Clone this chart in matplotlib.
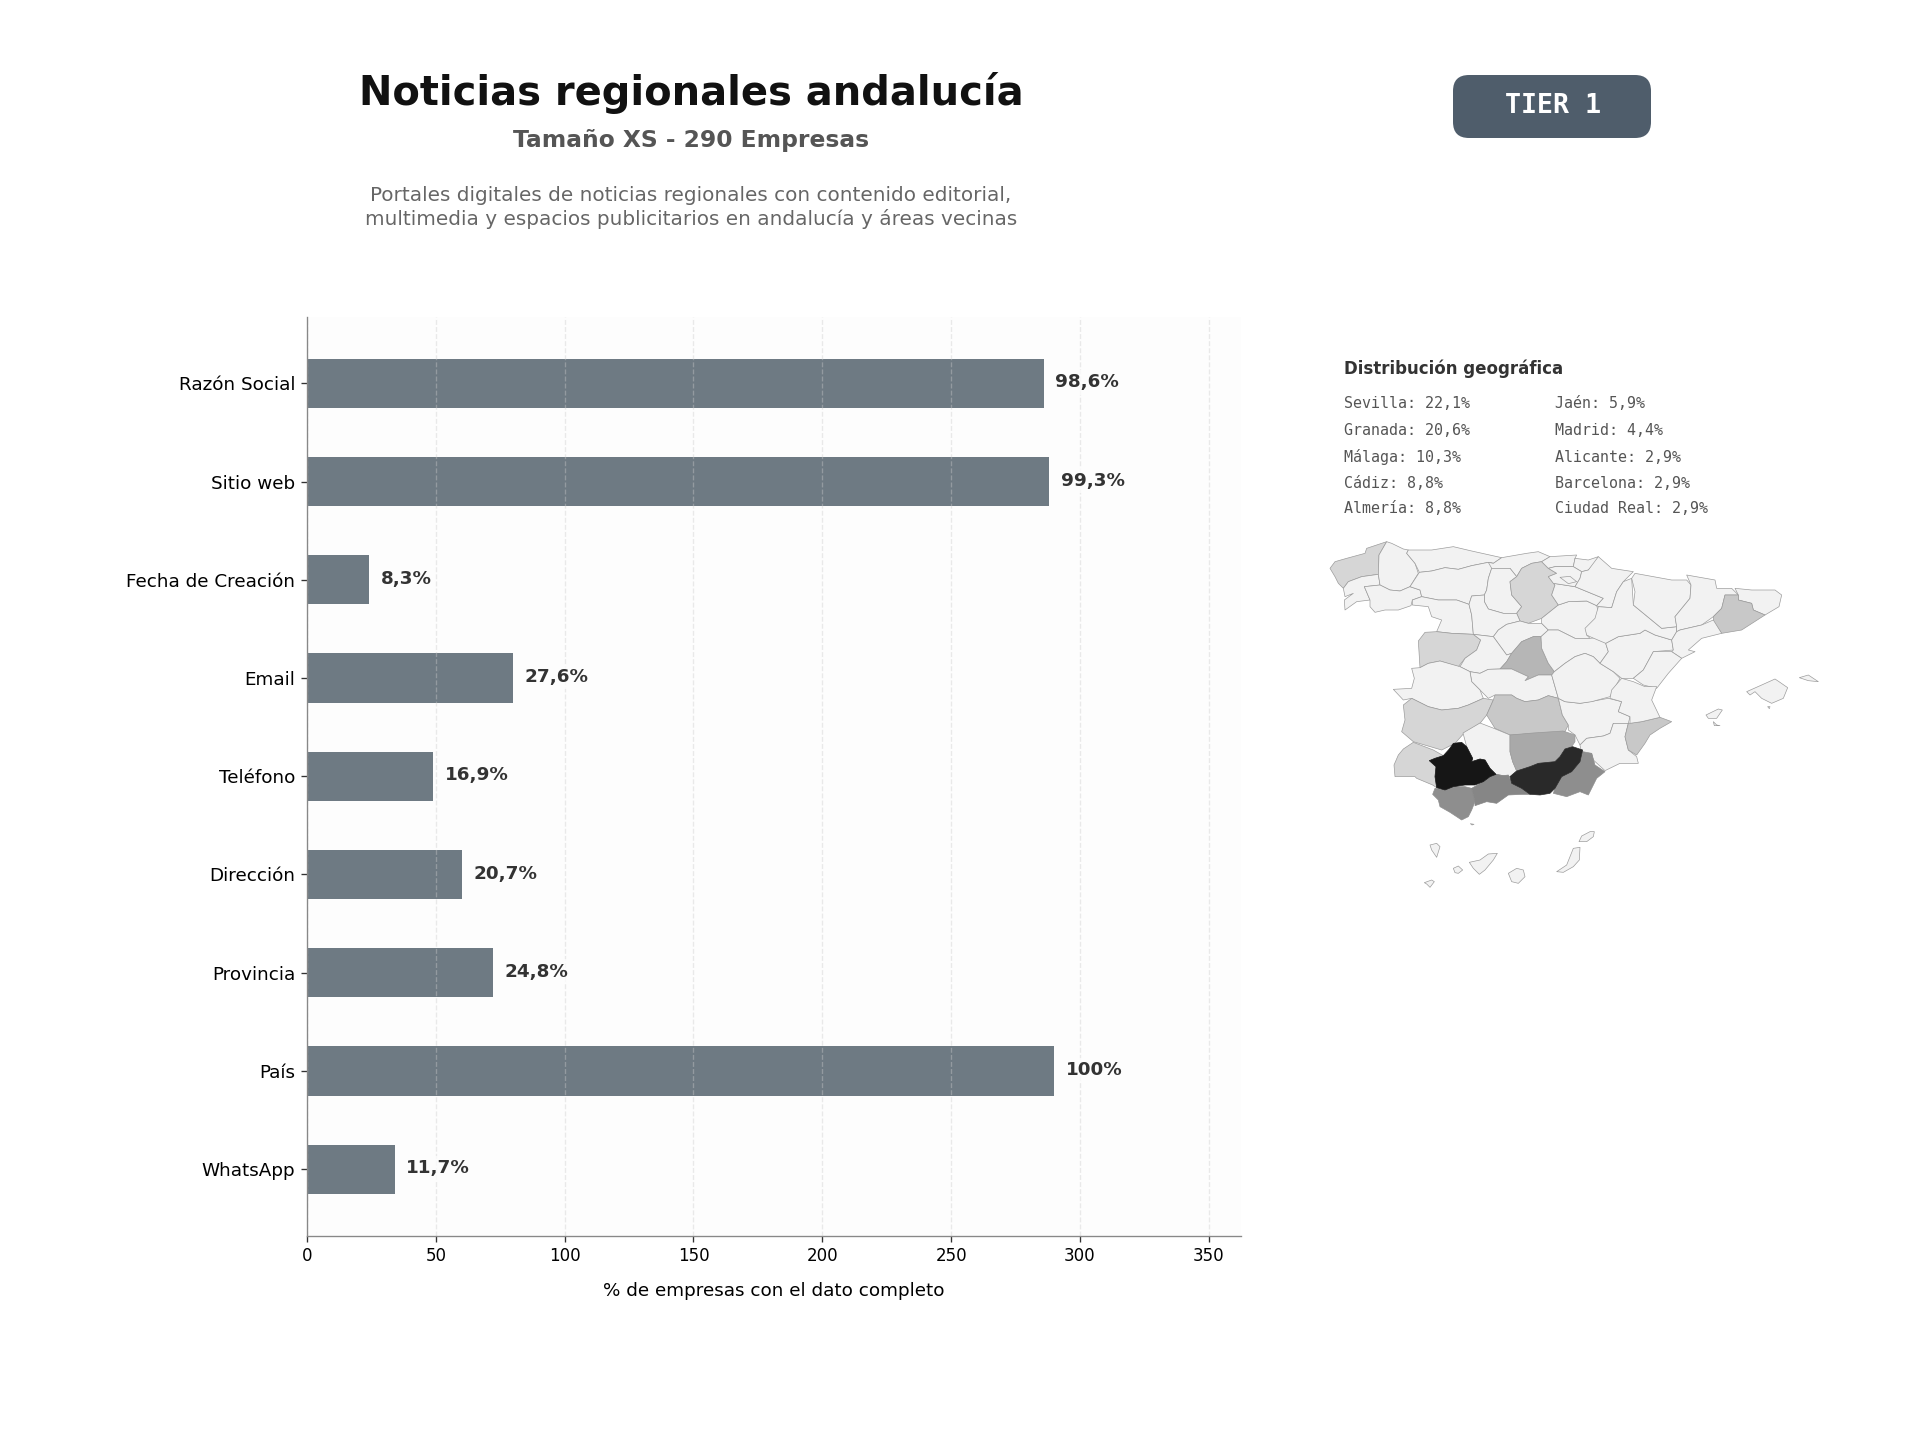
import numpy as np
import matplotlib
matplotlib.use('Agg')
import matplotlib.pyplot as plt
from matplotlib.colors import LinearSegmentedColormap
from matplotlib.patches import FancyBboxPatch, Polygon

# --- Data ---

FIELDS = ['Razón Social', 'Sitio web', 'Fecha de Creación', 'Email', 'Teléfono',
          'Dirección', 'Provincia', 'País', 'WhatsApp']
COUNTS = [286, 288, 24, 80, 49, 60, 72, 290, 34]
PCT_LABELS = ['98,6%', '99,3%', '8,3%', '27,6%', '16,9%', '20,7%', '24,8%', '100%', '11,7%']
TOTAL = 290

GEO_LEFT = ['Sevilla: 22,1%', 'Granada: 20,6%', 'Málaga: 10,3%', 'Cádiz: 8,8%', 'Almería: 8,8%']
GEO_RIGHT = ['Jaén: 5,9%', 'Madrid: 4,4%', 'Alicante: 2,9%', 'Barcelona: 2,9%', 'Ciudad Real: 2,9%']

# share per province (provinces not listed have no companies)
SHARE = {'Sevilla': 22.1, 'Granada': 20.6, 'Malaga': 10.3, 'Cadiz': 8.8, 'Almeria': 8.8,
         'Jaen': 5.9, 'Madrid': 4.4, 'Alicante': 2.9, 'Barcelona': 2.9, 'Ciudad Real': 2.9,
         'A Coruna': 1.5, 'Burgos': 1.5, 'Salamanca': 1.5, 'Badajoz': 1.5, 'Huelva': 1.5}

# Province outlines traced by hand, one dict per map sheet
SHEET_NW = {
    'A Coruna': [(15,100),(30,80),(65,70),(120,55),(125,40),(185,20),(162,60),(160,118),(110,125),(70,140),(55,160),(40,145),(30,125)],
    'Pontevedra': [(55,160),(70,140),(110,125),(160,118),(165,150),(118,155),(135,195),(95,200),(60,225),(58,195),(85,175),(60,185)],
    'Lugo': [(185,20),(200,25),(235,42),(250,45),(245,55),(270,85),(280,115),(255,155),(225,168),(195,165),(165,150),(160,118),(162,60)],
    'Ourense': [(118,155),(165,150),(195,165),(225,168),(255,155),(285,165),(290,185),(262,195),(258,212),(220,225),(180,225),(150,232),(135,215),(135,195)],
    'Asturias': [(250,45),(320,45),(385,35),(440,48),(530,68),(505,85),(490,82),(440,92),(400,103),(360,98),(320,108),(283,112),(270,85),(245,55)],
    'Leon': [(283,112),(320,108),(360,98),(400,103),(440,92),(490,82),(505,85),(490,130),(485,165),(478,180),(440,183),(432,208),(395,195),(340,195),(290,185),(285,165),(255,155)],
    'Cantabria': [(530,68),(605,55),(640,50),(675,65),(650,80),(620,85),(590,100),(575,125),(555,100),(500,100),(490,82),(505,85)],
    'Palencia': [(500,100),(555,100),(575,125),(555,140),(560,180),(590,215),(575,235),(535,235),(490,222),(478,200),(478,180),(485,165),(490,130)],
    'Burgos': [(590,100),(620,85),(650,80),(670,100),(695,115),(670,125),(690,150),(680,180),(700,210),(650,250),(610,265),(585,258),(575,235),(590,215),(560,180),(555,140),(575,125)],
    'Zamora': [(262,195),(290,185),(340,195),(395,195),(432,208),(440,240),(445,298),(380,295),(335,290),(350,255),(320,245),(310,215),(262,210)],
    'Valladolid': [(440,183),(478,180),(478,200),(490,222),(535,235),(575,235),(585,258),(545,268),(520,285),(505,305),(445,298),(440,240),(432,208)],
    'Salamanca': [(280,318),(300,292),(335,290),(380,295),(445,298),(467,315),(455,345),(420,370),(400,395),(345,378),(310,385),(285,398)],
    'Segovia': [(505,305),(520,285),(545,268),(585,258),(610,265),(650,265),(670,285),(648,305),(625,305),(590,320),(560,355),(545,360)],
    'Soria': [(650,250),(700,210),(730,200),(785,198),(815,212),(825,245),(790,280),(785,300),(795,310),(750,310),(700,285),(670,285),(650,265)],
    'Avila': [(405,395),(420,370),(455,345),(467,315),(445,298),(505,305),(545,360),(560,355),(545,380),(525,402),(490,403),(465,415),(435,410)],
    'Madrid': [(525,402),(545,380),(560,355),(590,320),(625,305),(648,305),(650,340),(670,385),(688,410),(680,420),(640,420),(600,437),(610,425),(560,402)],
    'Guadalajara': [(648,305),(670,285),(700,285),(750,310),(795,310),(840,305),(842,325),(850,350),(825,385),(805,365),(780,355),(750,365),(720,385),(688,410),(670,385),(650,340)],
    'Toledo': [(435,410),(465,415),(490,403),(525,402),(560,402),(610,425),(600,437),(640,420),(680,420),(700,490),(670,482),(640,495),(600,500),(575,490),(560,480),(510,480),(490,490),(465,465),(440,440)],
    'Caceres': [(260,400),(285,398),(310,385),(345,378),(405,395),(435,410),(440,440),(465,465),(475,490),(430,510),(400,520),(350,525),(310,515),(260,490),(235,495),(205,463),(260,460),(268,430)],
    'Badajoz': [(235,510),(260,490),(310,515),(350,525),(400,520),(430,510),(475,490),(505,495),(485,540),(465,565),(415,597),(390,625),(350,645),(265,620),(230,590),(240,555)],
    'Ciudad Real': [(505,495),(510,480),(560,480),(575,490),(600,500),(640,495),(670,482),(700,490),(712,540),(730,570),(720,590),(640,595),(555,600),(510,580),(485,540)],
    'Albacete': [(700,490),(720,500),(765,505),(795,500),(850,490),(890,500),(880,530),(915,545),(910,565),(865,565),(855,595),(835,603),(785,610),(765,630),(750,600),(730,585),(730,570),(712,540)],
    'Cuenca': [(688,410),(720,385),(750,365),(780,355),(805,365),(825,385),(865,410),(885,430),(855,485),(800,500),(765,505),(720,500),(700,490),(680,420)],
    'La Rioja': [(685,145),(750,155),(835,190),(815,212),(785,198),(730,200),(700,210),(680,180),(690,150)],
    'Bizkaia': [(650,80),(675,65),(755,60),(750,70),(745,95),(690,95),(670,100)],
    'Gipuzkoa': [(750,70),(790,75),(820,65),(810,85),(790,105),(770,110),(745,95)],
    'Alava': [(670,125),(695,115),(670,100),(690,95),(745,95),(770,110),(765,130),(750,155),(685,145)],
    'Trevino': [(705,127),(735,124),(755,140),(730,146)],
    'Navarra': [(765,130),(770,110),(790,105),(820,65),(860,100),(925,110),(895,140),(875,170),(860,218),(820,215),(815,212),(835,190),(750,155)],
}

SHEET_NE = {
    'Teruel': [(75,385),(100,350),(92,325),(130,305),(195,295),(210,285),(240,300),(290,315),(295,345),(235,350),(205,405),(175,430),(140,430),(115,410)],
    'Zaragoza': [(35,300),(30,280),(60,250),(70,215),(110,218),(125,170),(145,140),(170,130),(175,210),(260,280),(305,275),(305,290),(290,315),(240,300),(210,285),(195,295),(130,305),(92,325),(45,305)],
    'Huesca': [(170,130),(180,115),(235,125),(290,135),(335,135),(348,150),(345,190),(300,245),(305,275),(260,280),(175,210),(180,170)],
    'Lleida': [(335,120),(420,135),(425,160),(470,160),(490,180),(450,180),(440,220),(415,245),(380,270),(315,285),(305,290),(305,275),(300,245),(345,190),(348,150)],
    'Girona': [(490,180),(480,160),(530,165),(600,165),(620,180),(612,215),(570,240),(535,225),(530,205),(490,195)],
    'Barcelona': [(450,180),(490,180),(490,195),(530,205),(535,225),(570,240),(500,285),(440,295),(415,260),(415,245),(440,220)],
    'Tarragona': [(315,285),(380,270),(415,255),(440,295),(380,310),(340,345),(360,350),(330,365),(320,370),(290,350),(295,345),(290,315),(305,290)],
    'Castellon': [(175,430),(205,405),(235,350),(290,350),(320,370),(280,415),(245,460),(205,450)],
    'Mallorca': [(515,470),(560,450),(600,432),(612,440),(638,458),(625,490),(590,505),(560,490),(540,470),(525,480)],
    'Menorca': [(673,428),(700,420),(730,440),(700,437)],
    'Ibiza': [(393,540),(430,522),(442,525),(425,550),(400,550)],
    'Formentera': [(415,560),(425,570),(435,572),(418,572)],
    'Cabrera': [(578,515),(585,515),(583,521)],
}

SHEET_SW = {
    'La Palma': [(150,435),(170,430),(180,440),(170,472),(155,450)],
    'Tenerife': [(268,487),(300,480),(325,462),(352,460),(340,480),(315,510),(298,523),(280,505)],
    'La Gomera': [(220,505),(235,498),(248,510),(235,520),(225,518)],
    'El Hierro': [(133,548),(155,540),(163,545),(150,562),(140,552)],
    'Gran Canaria': [(385,520),(410,505),(430,510),(435,530),(415,550),(395,545)],
    'Lanzarote': [(597,425),(605,408),(630,395),(643,395),(640,410),(620,425)],
    'Fuerteventura': [(530,515),(560,495),(580,445),(600,442),(598,480),(580,500),(550,517)],
    'Ceuta': [(271,371),(282,373),(276,375)],
}

SHEET_SE = {
    'Murcia': [(0,255),(20,235),(70,228),(90,220),(100,190),(145,190),(135,230),(145,270),(170,290),(175,310),(120,310),(75,332),(40,300),(35,280),(5,280)],
    'Alicante': [(135,230),(145,190),(185,185),(240,172),(275,185),(240,205),(210,225),(195,250),(170,285),(145,270)],
    'Valencia': [(125,55),(160,65),(195,80),(230,80),(215,120),(240,172),(185,185),(150,190),(150,170),(115,155),(125,125),(90,115),(95,90)],
}

SHEET_SOUTH = {
    'Cordoba': [(219,-6),(270,-36),(309,-21),(360,0),(360,50),(368,80),(380,108),(360,125),(340,122),(318,118),(300,100),(285,75),(270,72),(245,80),(248,70),(230,35)],
    'Jaen': [(360,0),(429,-6),(519,-12),(555,0),(555,20),(545,35),(525,42),(510,65),(495,80),(445,85),(420,95),(380,108),(368,80),(360,50)],
    'Huelva': [(12,90),(25,60),(40,42),(70,22),(130,45),(160,62),(135,70),(118,77),(138,95),(135,125),(140,158),(128,150),(80,130),(75,125),(15,125)],
    'Cadiz': [(128,178),(135,160),(165,165),(190,155),(225,155),(245,160),(255,200),(245,225),(235,245),(215,255),(180,232),(150,215),(145,195)],
    'Malaga': [(245,160),(280,140),(300,125),(318,118),(340,122),(355,120),(365,145),(395,160),(420,178),(395,178),(355,180),(320,205),(290,200),(255,212),(255,200)],
    'Almeria': [(495,160),(515,125),(545,110),(570,80),(578,50),(605,55),(615,90),(645,110),(620,130),(595,180),(570,170),(530,185),(490,175)],
    'Granada': [(360,125),(380,108),(420,95),(445,85),(495,80),(510,65),(525,42),(548,35),(578,45),(570,80),(545,110),(515,125),(495,160),(480,175),(450,180),(420,178),(395,160),(365,145)],
    'Sevilla': [(118,77),(135,70),(160,62),(178,42),(190,25),(215,22),(230,35),(248,70),(245,80),(270,72),(285,75),(300,100),(318,118),(300,125),(280,140),(255,150),(225,150),(190,155),(165,165),(140,158),(135,125),(138,95)],
}

# origin of each sheet on the picture, sheet units are a third of a pixel
SHEET_ORIGIN = {'nw': (1325, 535), 'ne': (1575, 535), 'sw': (1380, 700), 'se': (1580, 660), 'south': (1390, 735)}
SHEETS = {'nw': SHEET_NW, 'ne': SHEET_NE, 'sw': SHEET_SW, 'se': SHEET_SE, 'south': SHEET_SOUTH}

# grey scale of the map, from share to shade
GREY_SHARE = [0, 1.5, 2.9, 4.4, 5.9, 8.8, 10.3, 20.6, 22.1]
GREY_SHADE = ['#f2f2f2', '#d6d6d6', '#c8c8c8', '#b6b6b6', '#a9a9a9', '#8e8e8e', '#888888', '#2a2a2a', '#161616']

# --- Figure ---

W, H = 1920, 1440
fig = plt.figure(figsize=(16, 12), dpi=120, facecolor='white')


def ftext(x, y, s, **kw):
    """Text placed in picture pixels."""
    return fig.text(x / W, 1 - y / H, s, **kw)


# --- Header ---
ftext(691, 93, 'Noticias regionales andalucía', fontsize=24, fontweight='bold',
      color='#111111', ha='center', va='center')
ftext(691, 141, 'Tamaño XS - 290 Empresas', fontsize=14, fontweight='bold',
      color='#555555', ha='center', va='center')
ftext(691, 207.5, 'Portales digitales de noticias regionales con contenido editorial,\n'
      'multimedia y espacios publicitarios en andalucía y áreas vecinas',
      fontsize=12, color='#666666', ha='center', va='center', linespacing=1.25)

overlay = fig.add_axes([0, 0, 1, 1], facecolor='none', zorder=3)
overlay.set_xlim(0, W)
overlay.set_ylim(H, 0)
overlay.axis('off')
overlay.add_patch(FancyBboxPatch((1453, 75), 198, 63, boxstyle='round,pad=0,rounding_size=16',
                                 fc='#4f5d6b', ec='none'))
ftext(1553, 106, 'TIER 1', fontsize=16, fontweight='bold', family='DejaVu Sans Mono',
      color='white', ha='center', va='center', zorder=5)

# --- Bars ---
ax = fig.add_axes([307 / W, 1 - 1235.5 / H, (1241 - 307) / W, (1235.5 - 317) / H], facecolor='#fdfdfd')
y = np.arange(len(FIELDS))
ax.barh(y, COUNTS, height=0.5, color='#6e7a83', zorder=2)
ax.set_yticks(y, FIELDS, fontsize=11)
ax.set_ylim(8.675, -0.675)
ax.set_xlim(0, TOTAL * 1.25)
ax.set_xticks(np.arange(0, 351, 50))
ax.tick_params(axis='x', labelsize=10, color='#333333')
ax.tick_params(axis='y', color='#333333', pad=3.5)
ax.set_xlabel('% de empresas con el dato completo', fontsize=11, labelpad=10)
ax.grid(axis='x', linestyle='--', color='#cccccc', alpha=0.4, linewidth=0.8, zorder=3)
ax.set_axisbelow(False)
for side in ['top', 'right']:
    ax.spines[side].set_visible(False)
for side in ['left', 'bottom']:
    ax.spines[side].set_color('#888888')
    ax.spines[side].set_zorder(6)

for yi, count, label in zip(y, COUNTS, PCT_LABELS):
    ax.text(count + 4.5, yi - 0.01, label, fontsize=11, fontweight='bold', color='#333333',
            va='center', ha='left', zorder=4,
            bbox=dict(fc='#fdfdfd', ec='none', pad=2, alpha=0.8))

# --- Geographic panel ---
ftext(1344, 369, 'Distribución geográfica', fontsize=10, fontweight='bold', color='#333333',
      ha='left', va='center')
ROWS_Y = [404, 430, 457, 483, 508]
for row_y, left, right in zip(ROWS_Y, GEO_LEFT, GEO_RIGHT):
    ftext(1344, row_y, left, fontsize=9, family='DejaVu Sans Mono', color='#555555', va='center')
    ftext(1555, row_y, right, fontsize=9, family='DejaVu Sans Mono', color='#555555', va='center')

grey = LinearSegmentedColormap.from_list('share_grey', GREY_SHADE, N=256)
stops = np.linspace(0, 1, len(GREY_SHARE))

for key, sheet in SHEETS.items():
    ox, oy = SHEET_ORIGIN[key]
    for name, outline in sheet.items():
        pts = np.array(outline, dtype=float) / 3 + (ox, oy)
        share = SHARE.get(name, 0)
        shade = grey(np.interp(share, GREY_SHARE, stops))
        overlay.add_patch(Polygon(pts, closed=True, fc=shade,
                                  ec=shade if share > 8 else '#9a9a9a', lw=0.4, joinstyle='round'))

fig.savefig('out.png', dpi=120)
